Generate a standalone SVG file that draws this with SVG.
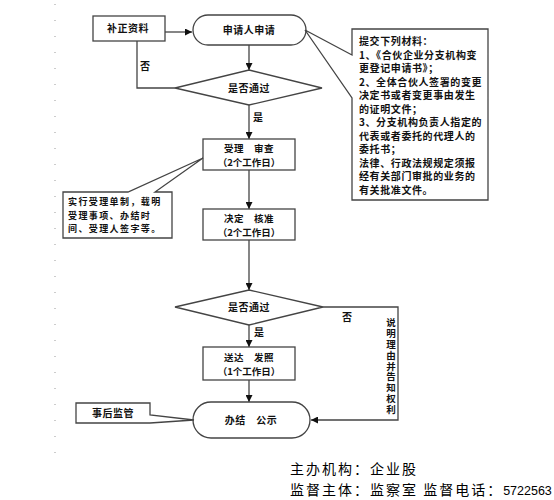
<svg xmlns="http://www.w3.org/2000/svg" width="554" height="500" viewBox="0 0 554 500">
<defs>
<marker id="arr" viewBox="0 0 8 8" refX="8" refY="4" markerWidth="7" markerHeight="7" markerUnits="userSpaceOnUse" orient="auto"><path d="M0,0 L8,4 L0,8 z" fill="#111"/></marker>
<style>
.box{fill:#fff;stroke:#444;stroke-width:1.3}
.ln{fill:none;stroke:#444;stroke-width:1.3}
.t{font-family:"Noto Sans CJK SC","Liberation Sans",sans-serif;font-size:10px;font-weight:bold;fill:#111}
.s{font-size:9.5px}
.s9{font-size:9px;letter-spacing:1.4px}
.c{text-anchor:middle}
.w1{letter-spacing:0.6px}
.w2{letter-spacing:0.5px}
.v{font-size:9.5px;writing-mode:vertical-rl;letter-spacing:1.3px}
.b{font-family:"Noto Sans CJK SC","Liberation Sans",sans-serif;font-size:14px;letter-spacing:2px;fill:#000}
</style>
</defs>
<rect width="554" height="500" fill="#fff"/>
<line x1="55" y1="4" x2="55" y2="468" stroke="#999" stroke-width="1" stroke-dasharray="1,15"/>

<g id="connectors">
<line class="ln" x1="165" y1="32" x2="192" y2="32" marker-end="url(#arr)"/>
<line class="ln" x1="249" y1="45" x2="249" y2="70" marker-end="url(#arr)"/>
<polyline class="ln" points="137,41 137,88 175,88"/>
<text class="t" x="140" y="70">否</text>
<line class="ln" x1="249" y1="105" x2="249" y2="139" marker-end="url(#arr)"/>
<text class="t" x="253" y="121">是</text>
<line class="ln" x1="249" y1="170" x2="249" y2="209" marker-end="url(#arr)"/>
<line class="ln" x1="249" y1="240" x2="249" y2="290" marker-end="url(#arr)"/>
<polyline class="ln" points="323,307 398,307 398,420 311,420" marker-end="url(#arr)"/>
<text class="t" x="342" y="321">否</text>
<line class="ln" x1="249" y1="325" x2="249" y2="347" marker-end="url(#arr)"/>
<text class="t" x="254" y="336">是</text>
<line class="ln" x1="249" y1="380" x2="249" y2="402" marker-end="url(#arr)"/>
</g>

<g id="n_buzheng">
<rect class="box" x="93" y="16" width="72" height="25"/>
<text class="t c w2" x="128" y="32">补正资料</text>
</g>
<g id="n_shenqing">
<rect class="box" x="193" y="15" width="113" height="30" rx="15" ry="15"/>
<text class="t c w2" x="249" y="34">申请人申请</text>
</g>
<g id="n_callout1">
<path class="box" d="M352,29 L488,29 L488,200 L352,200 L352,98 L305,30 L352,55 Z"/>
<g class="t w1">
<text x="359" y="45">提交下列材料：</text>
<text x="359" y="58.5">1、《合伙企业分支机构变</text>
<text x="359" y="72">更登记申请书》；</text>
<text x="359" y="85.5">2、全体合伙人签署的变更</text>
<text x="359" y="99">决定书或者变更事由发生</text>
<text x="359" y="112.5">的证明文件；</text>
<text x="359" y="126">3、分支机构负责人指定的</text>
<text x="359" y="139.5">代表或者委托的代理人的</text>
<text x="359" y="153">委托书；</text>
<text x="359" y="166.5">法律、行政法规规定须报</text>
<text x="359" y="180">经有关部门审批的业务的</text>
<text x="359" y="193.5">有关批准文件。</text>
</g>
</g>
<g id="n_d1">
<polygon class="box" points="249,70 322,88 249,105 175,88"/>
<text class="t c w2" x="249" y="92">是否通过</text>
</g>
<g id="n_shencha">
<rect class="box" x="203" y="139" width="92" height="31"/>
<text class="t s c w2" x="249" y="152">受理　审查</text>
<text class="t s c" x="249" y="166">（2个工作日）</text>
</g>
<g id="n_callout2">
<path class="box" d="M63,192 L128,192 L203,158 L155,192 L172,192 L172,238 L63,238 Z"/>
<g class="t s9">
<text x="68" y="205">实行受理单制，载明</text>
<text x="68" y="218.5">受理事项、办结时</text>
<text x="68" y="232">间、受理人签字等。</text>
</g>
</g>
<g id="n_hezhun">
<rect class="box" x="203" y="209" width="92" height="31"/>
<text class="t s c w2" x="249" y="222">决定　核准</text>
<text class="t s c" x="249" y="236">（2个工作日）</text>
</g>
<g id="n_d2">
<polygon class="box" points="249,290 323,307 249,325 175,307"/>
<text class="t c w2" x="249" y="311">是否通过</text>
</g>
<g id="n_vtext">
<text class="t v" x="391" y="318">说明理由并告知权利</text>
</g>
<g id="n_fazhao">
<rect class="box" x="203" y="347" width="92" height="33"/>
<text class="t s c w2" x="249" y="361">送达　发照</text>
<text class="t s c" x="249" y="375">（1个工作日）</text>
</g>
<g id="n_banjie">
<rect class="box" x="193" y="402" width="117" height="36" rx="18" ry="18"/>
<text class="t c w2" x="251" y="424">办结　公示</text>
</g>
<g id="n_jianguan">
<path class="box" d="M76,403 L150,403 L150,415 L194,420 L150,423 L76,423 Z"/>
<text class="t c w2" x="113" y="417">事后监管</text>
</g>

<text class="b" x="290" y="474">主办机构：企业股</text>
<text class="b" x="290" y="495">监督主体：监察室 监督电话：<tspan font-family="Liberation Sans, sans-serif" font-size="12.5" letter-spacing="0">5722563</tspan></text>
</svg>
